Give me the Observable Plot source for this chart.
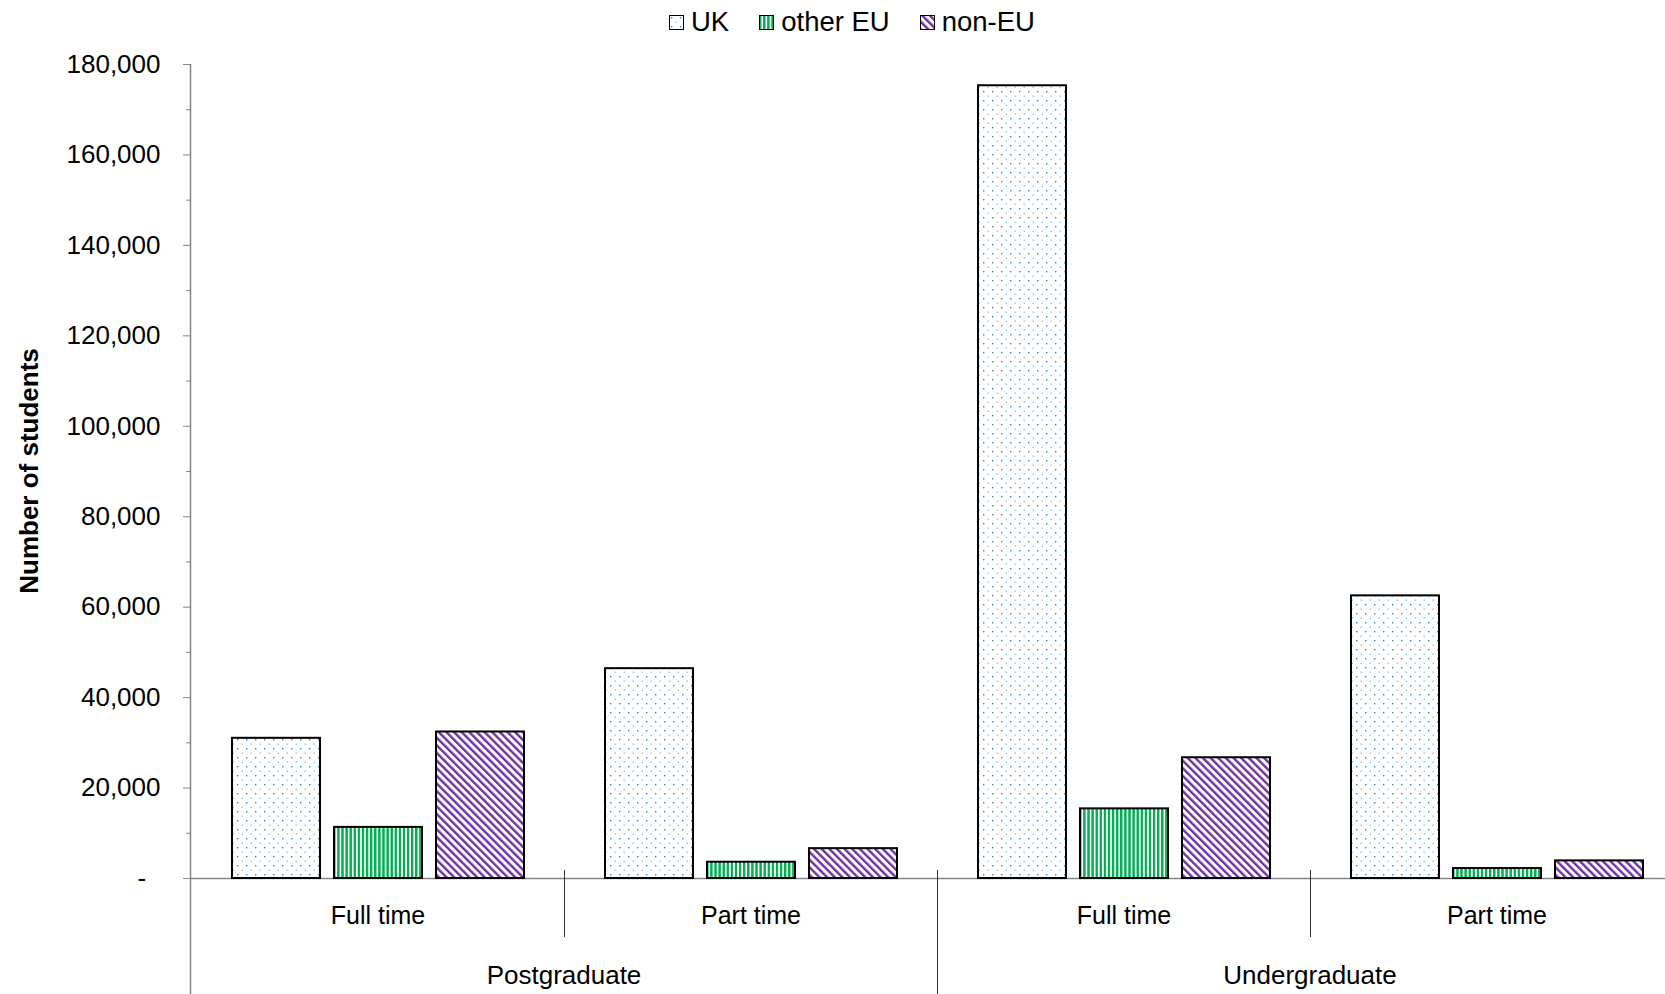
<!DOCTYPE html>
<html><head><meta charset="utf-8">
<script src="https://cdn.jsdelivr.net/npm/d3@7"></script>
<script src="https://cdn.jsdelivr.net/npm/@observablehq/plot@0.6"></script>
<style>
html,body{margin:0;padding:0;background:#fff;overflow:hidden;}
body{width:1665px;height:994px;font-family:"Liberation Sans",Arial,sans-serif;}
#legend{height:44px;display:flex;align-items:center;padding-left:669px;font-size:27.5px;color:#000;}
.item{display:flex;align-items:center;margin-right:30px;}
.item svg{margin-right:7px;}
#chart{overflow:hidden;width:1665px;}
#chart svg{max-width:none !important;}
</style></head><body>
<svg width="0" height="0" style="position:absolute">
 <defs>
  <pattern id="pat-uk" patternUnits="userSpaceOnUse" width="9" height="9">
    <rect width="9" height="9" fill="#fff"/>
    <rect x="2" y="2" width="1.4" height="1.4" fill="#2f86d6"/>
    <rect x="6.5" y="6.5" width="1.4" height="1.4" fill="#8cbfec"/>
  </pattern>
  <pattern id="pat-eu" patternUnits="userSpaceOnUse" width="4.1" height="10">
    <rect width="4.1" height="10" fill="#fff"/>
    <rect width="2.4" height="10" fill="#00b050"/>
  </pattern>
  <pattern id="pat-non" patternUnits="userSpaceOnUse" width="5.4" height="10" patternTransform="rotate(-45)">
    <rect width="5.4" height="10" fill="#fff"/>
    <rect width="2.4" height="10" fill="#7030a0"/>
  </pattern>
 </defs>
</svg>
<div id="legend"></div>
<div id="chart"></div>
<script>
// ---- data ----
const levels = ["Postgraduate", "Undergraduate"];
const modes = ["Full time", "Part time"];
const series = ["UK", "other EU", "non-EU"];
// order: PG Full time, PG Part time, UG Full time, UG Part time
const ukValues = [31000, 46400, 175300, 62500];
const otherEuValues = [11300, 3600, 15400, 2200];
const nonEuValues = [32400, 6600, 26700, 3900];
const yTicks = [0, 20000, 40000, 60000, 80000, 100000, 120000, 140000, 160000, 180000];
const yMinorTicks = [10000, 30000, 50000, 70000, 90000, 110000, 130000, 150000, 170000];
const yTitle = "Number of students";
const patternUrls = ["url(#pat-uk)", "url(#pat-eu)", "url(#pat-non)"];

// ---- build table ----
const keys = [];
levels.forEach(l => modes.forEach(m => keys.push(l + "|" + m)));
const valueSets = [ukValues, otherEuValues, nonEuValues];
const rows = [];
keys.forEach((k, i) => series.forEach((s, j) => rows.push({key: k, series: s, value: valueSets[j][i]})));

const gray = "#858585";
const fmt = d3.format(",");

// ---- legend ----
const legend = d3.select("#legend");
series.forEach((s, j) => {
  const it = legend.append("div").attr("class", "item");
  const sw = it.append("svg").attr("width", 15).attr("height", 15);
  sw.append("rect").attr("x", 0.5).attr("y", 0.5).attr("width", 14).attr("height", 14)
    .attr("fill", patternUrls[j]).attr("stroke", "#000").attr("stroke-width", 1);
  it.append("span").text(s);
});

// ---- chart ----
const plot = Plot.plot({
  width: 1684,
  height: 950,
  marginTop: 20,
  marginBottom: 116,
  marginLeft: 190,
  marginRight: 0,
  style: {fontFamily: '"Liberation Sans", Arial, sans-serif', fontSize: "26px", color: "#000", background: "#fff", overflow: "visible", maxWidth: "none"},
  fx: {domain: keys, padding: 0, axis: null},
  x: {domain: series, paddingInner: 0.14, paddingOuter: 0.39, axis: null},
  y: {domain: [0, 180000], axis: null},
  color: {type: "ordinal", domain: series, range: patternUrls},
  marks: [
    Plot.axisFx({anchor: "bottom", tickSize: 0, tickPadding: 28, tickFormat: k => k.split("|")[1], label: null, fontSize: 25}),
    Plot.axisY({ticks: yMinorTicks, tickSize: 5, tickFormat: () => "", stroke: gray, label: null}),
    Plot.axisY({ticks: yTicks, tickSize: 8, tickPadding: 23, stroke: gray, label: null, fontSize: 26,
      tickFormat: d => d === 0 ? "-\u00a0\u00a0" : fmt(d)}),
    Plot.ruleY([0], {stroke: gray, strokeWidth: 1.5}),
    Plot.barY(rows, {fx: "key", x: "series", y: "value", fill: "series", stroke: "#000", strokeWidth: 2})
  ]
});
plot.style.maxWidth = "none";
document.getElementById("chart").appendChild(plot);

// ---- category separators, group labels, axis line, title ----
const svg = d3.select(plot);
const fxs = plot.scale("fx");
const ys = plot.scale("y");
const y0 = ys.apply(0);
const yTop = ys.apply(180000);
const H = 950;
const deco = svg.append("g");
// y axis line
deco.append("line").attr("x1", 190.5).attr("x2", 190.5).attr("y1", yTop).attr("y2", H)
  .attr("stroke", gray).attr("stroke-width", 1.5);
keys.forEach((k, i) => {
  if (i === 0) return;
  const x = Math.round(fxs.apply(k)) + 0.5;
  const outer = i % modes.length === 0;
  deco.append("line").attr("x1", x).attr("x2", x).attr("y1", y0 - 8).attr("y2", outer ? H : y0 + 59)
    .attr("stroke", "#333").attr("stroke-width", 1);
});
levels.forEach((l, i) => {
  const k0 = keys[i * modes.length], k1 = keys[i * modes.length + modes.length - 1];
  const cx = (fxs.apply(k0) + fxs.apply(k1) + fxs.bandwidth) / 2;
  deco.append("text").attr("x", cx).attr("y", y0 + 97).attr("dy", "0.35em")
    .attr("text-anchor", "middle").attr("font-size", 26).attr("fill", "#000").text(l);
});
deco.append("text").attr("transform", `translate(28.5,${(y0 + yTop) / 2}) rotate(-90)`)
  .attr("dy", "0.35em").attr("text-anchor", "middle").attr("font-size", 26).attr("font-weight", "bold")
  .attr("fill", "#000").text(yTitle);
</script>
</body></html>
